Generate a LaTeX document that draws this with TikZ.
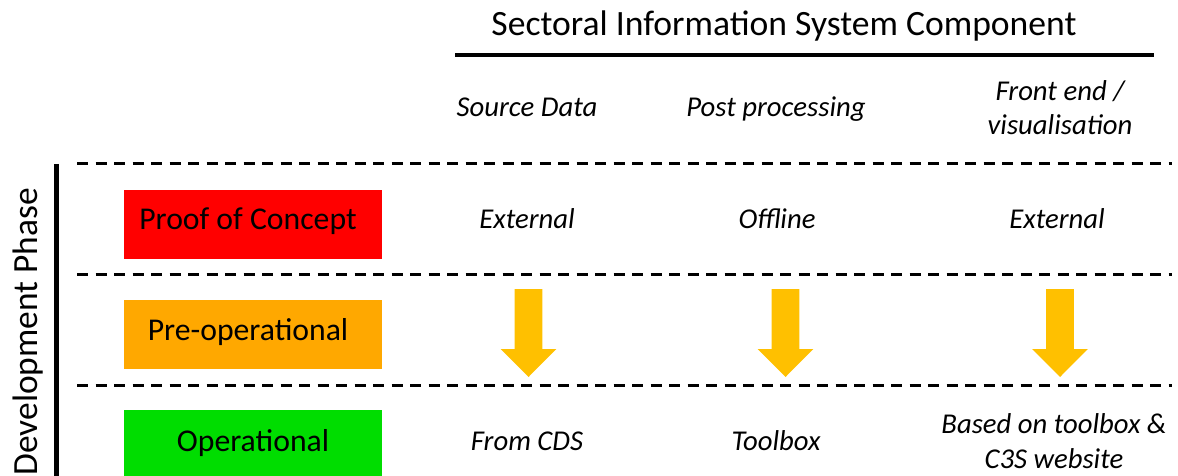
\documentclass[tikz,border=0pt]{standalone}
\usepackage{fontspec}
\setmainfont{Carlito}
\definecolor{pocred}{RGB}{255,0,0}
\definecolor{preorange}{RGB}{255,168,0}
\definecolor{opgreen}{RGB}{0,221,0}
\definecolor{arrowgold}{RGB}{255,192,0}
\tikzset{
  sep/.style={draw=black,line width=3pt,dash pattern=on 11pt off 7.5pt},
  phasebox/.style={inner sep=0pt,minimum width=258pt,minimum height=69pt,anchor=north west},
  boxtext/.style={inner sep=0pt,anchor=base,font=\fontsize{31.7}{38}\selectfont},
  cell/.style={inner sep=0pt,anchor=base,font=\fontsize{28.7}{34}\selectfont\itshape},
  downarrow/.style={fill=arrowgold,draw=none}
}
\begin{document}
\begin{tikzpicture}[x=1pt,y=-1pt]
\useasboundingbox (0,0) rectangle (1178,476);
\begin{scope}
\clip (0,0) rectangle (1178,476);
% title
\node[inner sep=0pt,anchor=base,font=\fontsize{35.6}{42}\selectfont] (title) at (784,36) {Sectoral Information System Component};
\coordinate (tl) at (455,55.3);
\coordinate (tr) at (1154,55.3);
\draw[line width=4pt] (tl) -- (tr);
% column headers
\node[cell] (h1) at (527,117) {Source Data};
\node[cell] (h2) at (776,117) {Post processing};
\node[cell,align=center] (h3a) at (1060,101) {Front end /};
\node[cell] (h3b) at (1060,135) {visualisation};
% separators
\coordinate (s1l) at (77,163.5); \coordinate (s1r) at (1172,163.5);
\coordinate (s2l) at (77,274.5); \coordinate (s2r) at (1172,274.5);
\coordinate (s3l) at (77,385); \coordinate (s3r) at (1172,385);
\draw[sep] (s1l) -- (s1r);
\draw[sep] (s2l) -- (s2r);
\draw[sep] (s3l) -- (s3r);
% vertical axis
\coordinate (vt) at (56,164);
\coordinate (vb) at (56,480);
\draw[line width=5pt] (vt) -- (vb);
\node[inner sep=0pt,rotate=90,anchor=base east,font=\fontsize{35.4}{42}\selectfont] (dev) at (37.5,188) {Development Phase};
% phase boxes
\node[phasebox,fill=pocred] (b1) at (124,189.3) {};
\node[phasebox,fill=preorange] (b2) at (124,299.5) {};
\node[phasebox,fill=opgreen] (b3) at (124,409.5) {};
\node[boxtext] (t1) at (248,229) {Proof of Concept};
\node[boxtext] (t2) at (248,340) {Pre-operational};
\node[boxtext] (t3) at (253,451) {Operational};
% row 1
\node[cell] (r1a) at (527,228) {External};
\node[cell] (r1b) at (777,228) {Offline};
\node[cell] (r1c) at (1057,228) {External};
% arrows
\foreach \cx/\nm in {528.5/a1,785.5/a2,1060/a3}{
  \fill[downarrow] (\cx-13.8,289) -- (\cx+13.8,289) -- (\cx+13.8,349) -- (\cx+27.8,349)
     -- (\cx,377) -- (\cx-27.8,349) -- (\cx-13.8,349) -- cycle;
}
% row 3
\node[cell] (r3a) at (527,450) {From CDS};
\node[cell] (r3b) at (776,450) {Toolbox};
\node[cell] (r3c) at (1054,433) {Based on toolbox \&};
\node[cell] (r3d) at (1054,468) {C3S website};
\end{scope}
\end{tikzpicture}
\end{document}
